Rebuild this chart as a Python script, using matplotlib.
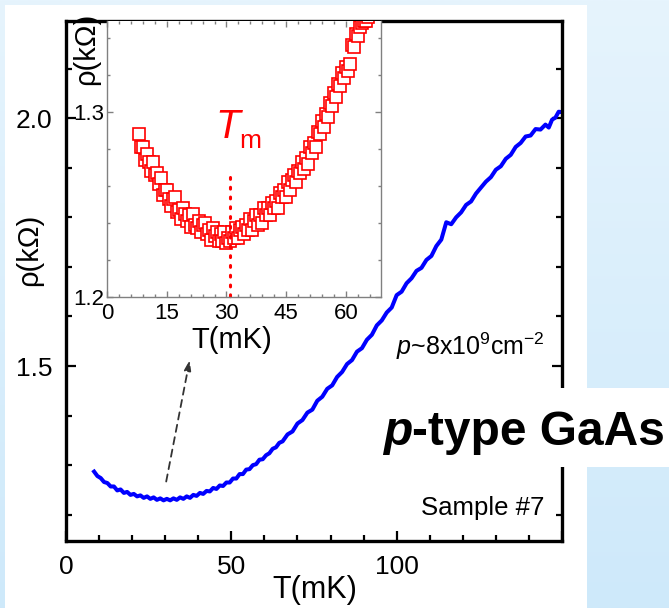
"""
plot.py

Resistivity vs temperature for p-type GaAs, with an inset that zooms
in on the low-temperature minimum.
"""

import numpy as np
import matplotlib
matplotlib.use("Agg")
import matplotlib.pyplot as plt
from matplotlib.patches import Rectangle
from matplotlib.ticker import MultipleLocator, FixedLocator, FixedFormatter

plt.rcParams["font.family"] = ["Liberation Sans", "DejaVu Sans"]
plt.rcParams["mathtext.fontset"] = "custom"
plt.rcParams["mathtext.rm"] = "Liberation Sans"
plt.rcParams["mathtext.it"] = "Liberation Sans:italic"

#####################################
# Data
#####################################

# main curve, T in mK, rho in kOhm
main_T = [8.5, 9.5, 10.5, 11.5, 12.5, 13.5, 14.5, 15.5, 16.5, 17.5, 18.5, 19.5,
          20.5, 21.5, 22.5, 23.5, 24.5, 25.5, 26.5, 27.5, 28.5, 29.5, 30.5, 31.5,
          32.5, 33.5, 34.5, 35.5, 36.5, 37.5, 38.5, 39.5, 40.5, 41.5, 42.5, 43.5,
          44.5, 45.5, 46.5, 47.5, 48.5, 49.5, 50.5, 51.5, 52.5, 53.5, 54.5, 55.5,
          56.5, 57.5, 58.5, 59.5, 60.5, 61.5, 62.5, 63.5, 64.5, 65.5, 67.0, 68.5,
          70.0, 71.5, 73.0, 74.5, 76.0, 77.5, 79.0, 80.5, 82.0, 83.5, 85.0, 86.5,
          88.0, 89.5, 91.0, 92.5, 94.0, 95.5, 97.0, 98.5, 100.0, 101.5, 103.0,
          104.5, 106.0, 107.5, 109.0, 110.5, 112.0, 113.5, 115.0, 116.5, 118.0,
          119.5, 121.0, 122.5, 124.0, 125.5, 127.0, 128.5, 130.0, 131.5, 133.0,
          134.5, 136.0, 137.5, 139.0, 140.5, 142.0, 143.5, 145.0, 146.0, 147.0,
          148.0, 149.0, 150.0]
main_rho = [1.287, 1.278, 1.274, 1.266, 1.264, 1.257, 1.257, 1.249, 1.251, 1.244,
            1.246, 1.240, 1.242, 1.237, 1.239, 1.234, 1.237, 1.232, 1.235, 1.230,
            1.233, 1.229, 1.232, 1.229, 1.233, 1.230, 1.235, 1.232, 1.237, 1.234,
            1.240, 1.238, 1.244, 1.242, 1.248, 1.247, 1.254, 1.252, 1.259, 1.258,
            1.265, 1.265, 1.273, 1.273, 1.282, 1.282, 1.291, 1.292, 1.300, 1.302,
            1.311, 1.312, 1.320, 1.324, 1.333, 1.336, 1.345, 1.348, 1.362, 1.368,
            1.384, 1.391, 1.406, 1.412, 1.430, 1.438, 1.454, 1.461, 1.478, 1.488,
            1.504, 1.512, 1.529, 1.536, 1.553, 1.563, 1.582, 1.592, 1.608, 1.618,
            1.643, 1.650, 1.667, 1.677, 1.692, 1.698, 1.714, 1.722, 1.742, 1.755,
            1.790, 1.786, 1.800, 1.810, 1.825, 1.832, 1.848, 1.860, 1.872, 1.881,
            1.896, 1.903, 1.918, 1.926, 1.942, 1.950, 1.963, 1.965, 1.978, 1.977,
            1.987, 1.981, 1.997, 2.001, 2.013, 2.012]

# inset scatter, T in mK, rho in kOhm
inset_T = [8.0, 8.5, 9.0, 9.5, 10.0, 10.5, 11.0, 11.5, 12.0, 12.5, 13.0, 13.5,
           14.0, 14.5, 15.0, 15.5, 16.0, 16.5, 17.0, 17.5, 18.0, 18.5, 19.0, 19.5,
           20.0, 20.5, 21.0, 21.5, 22.0, 22.5, 23.0, 23.5, 24.0, 24.5, 25.0, 25.5,
           26.0, 26.5, 27.0, 27.5, 28.0, 28.5, 29.0, 29.5, 30.0, 30.5, 31.0, 31.5,
           32.0, 32.5, 33.0, 33.5, 34.0, 34.5, 35.0, 35.5, 36.0, 36.5, 37.0, 37.5,
           38.0, 38.5, 39.0, 39.5, 40.0, 40.5, 41.0, 41.5, 42.0, 42.5, 43.0, 43.5,
           44.0, 44.5, 45.0, 45.5, 46.0, 46.5, 47.0, 47.5, 48.0, 48.5, 49.0, 49.5,
           50.0, 50.5, 51.0, 51.5, 52.0, 52.5, 53.0, 53.5, 54.0, 54.5, 55.0, 55.5,
           56.0, 56.5, 57.0, 57.5, 58.0, 58.5, 59.0, 59.5, 60.0, 60.5, 61.0, 61.5,
           62.0, 62.5, 63.0, 63.5, 64.0, 64.5, 65.0, 65.5]
inset_rho = [1.288, 1.281, 1.281, 1.274, 1.277, 1.273, 1.268, 1.273, 1.266, 1.267,
             1.261, 1.264, 1.255, 1.258, 1.258, 1.253, 1.249, 1.253, 1.254, 1.246,
             1.247, 1.242, 1.248, 1.245, 1.241, 1.244, 1.238, 1.245, 1.239, 1.237,
             1.241, 1.235, 1.239, 1.240, 1.234, 1.236, 1.231, 1.237, 1.233, 1.235,
             1.230, 1.234, 1.230, 1.235, 1.229, 1.232, 1.230, 1.235, 1.232, 1.237,
             1.232, 1.236, 1.238, 1.234, 1.239, 1.236, 1.242, 1.236, 1.241, 1.244,
             1.239, 1.244, 1.240, 1.248, 1.244, 1.248, 1.244, 1.251, 1.248, 1.252,
             1.248, 1.256, 1.254, 1.258, 1.254, 1.262, 1.258, 1.263, 1.266, 1.262,
             1.268, 1.267, 1.273, 1.269, 1.275, 1.272, 1.281, 1.278, 1.283, 1.281,
             1.289, 1.288, 1.295, 1.292, 1.299, 1.297, 1.305, 1.303, 1.310, 1.308,
             1.315, 1.314, 1.321, 1.318, 1.324, 1.322, 1.326, 1.336, 1.335, 1.342,
             1.341, 1.346, 1.348, 1.349, 1.349, 1.351]

T_min = 30.9  # position of the dotted marker in the inset

#####################################
# Figure and background
#####################################

W, H = 669, 608
fig = plt.figure(figsize=(W / 100, H / 100), dpi=100)

bg = fig.add_axes([0, 0, 1, 1], zorder=-3)
grad = np.linspace(0, 1, 256)[:, None, None]
top = np.array([230, 244, 253]) / 255
bottom = np.array([206, 233, 250]) / 255
bg.imshow(top + (bottom - top) * grad, aspect="auto", extent=[0, 1, 0, 1])
bg.set_axis_off()

# white paper behind the plot
fig.add_artist(Rectangle((5 / W, 0), 582 / W, (H - 5) / H, transform=fig.transFigure,
                         facecolor="white", edgecolor="none", zorder=-2))

#####################################
# Main plot
#####################################

ax = fig.add_axes([66 / W, (H - 541) / H, 496 / W, 520 / H], zorder=0)
ax.set_facecolor("white")
ax.plot(main_T, main_rho, color="#0000ff", lw=2.9)

ax.set_xlim(0, 150)
ax.set_ylim(1.147, 2.196)
ax.xaxis.set_major_locator(FixedLocator([0, 50, 100, 150]))
ax.xaxis.set_major_formatter(FixedFormatter(["0", "50", "100", ""]))
ax.xaxis.set_minor_locator(MultipleLocator(10))
ax.yaxis.set_major_locator(FixedLocator([1.5, 2.0]))
ax.yaxis.set_major_formatter(FixedFormatter(["1.5", "2.0"]))
ax.yaxis.set_minor_locator(MultipleLocator(0.1))

for s in ax.spines.values():
    s.set_linewidth(2.4)
ax.tick_params(which="both", direction="in", width=1.6, top=False, right=True,
               labelsize=19)
ax.tick_params(which="major", length=7)
ax.tick_params(which="minor", length=4)
ax.tick_params(axis="y", pad=10)
ax.tick_params(axis="x", pad=10)

ax.set_xlabel("T(mK)", fontsize=22, va="top")
ax.xaxis.set_label_coords(0.502, -0.066)
ax.set_ylabel("ρ(kΩ)", fontsize=21)
ax.yaxis.set_label_coords(-0.046, 0.56)

ax.annotate("", xy=(37.4, 1.512), xytext=(30.3, 1.267),
            arrowprops=dict(arrowstyle="-|>,head_length=0.6,head_width=0.2",
                            linestyle=(0, (4, 3)), color="#333333", lw=1.3,
                            shrinkA=0, shrinkB=0))

ax.text(144.7, 1.522, r"$p$~8x10$^{9}$cm$^{-2}$", fontsize=18,
        ha="right", va="baseline")
ax.text(144.7, 1.1996, "Sample #7", fontsize=18.5, ha="right", va="baseline")

#####################################
# Inset
#####################################

axi = fig.add_axes([107 / W, (H - 297) / H, 274 / W, 276 / H], zorder=1)
axi.set_facecolor("white")
axi.plot(inset_T, inset_rho, "s", ms=8, mfc="white", mec="#ff0000", mew=1.2)

axi.set_xlim(0, 68.8)
axi.set_ylim(1.2, 1.349)
axi.xaxis.set_major_locator(FixedLocator([0, 15, 30, 45, 60]))
axi.xaxis.set_minor_locator(MultipleLocator(3))
axi.yaxis.set_major_locator(FixedLocator([1.2, 1.3]))
axi.yaxis.set_major_formatter(FixedFormatter(["1.2", "1.3"]))
axi.yaxis.set_minor_locator(MultipleLocator(0.02))

for s in axi.spines.values():
    s.set_linewidth(1.0)
    s.set_color("#808080")
axi.spines["top"].set_visible(False)
axi.tick_params(which="both", direction="in", color="#808080", width=1.0,
                top=True, right=True, labelsize=16)
axi.tick_params(which="major", length=4)
axi.tick_params(which="minor", length=2.5)
axi.tick_params(axis="y", pad=2)
axi.tick_params(axis="x", pad=4)

axi.set_xlabel("T(mK)", fontsize=21, va="top")
axi.xaxis.set_label_coords(0.456, -0.105)
axi.set_ylabel("ρ(kΩ)", fontsize=21)
axi.yaxis.set_label_coords(-0.026, 0.9)

axi.plot([T_min, T_min], [1.265, 1.1984], color="#ff0000", lw=2.2,
         linestyle=(0, (0.6, 2.6)), dash_capstyle="round", clip_on=False)
axi.text(27.1, 1.286, "T", color="#ff0000", fontsize=29, style="italic",
         va="baseline")
axi.text(33.2, 1.2805, "m", color="#ff0000", fontsize=19, va="baseline")

#####################################
# Label box on the right
#####################################

fig.add_artist(Rectangle((370 / W, (H - 467) / H), (W - 370) / W, 79 / H,
                         transform=fig.transFigure, facecolor="white",
                         edgecolor="none", zorder=10))
t1 = fig.text(383 / W, (H - 445) / H, "p", fontsize=34.5, fontweight="bold",
              style="italic", va="baseline", zorder=11)
lab = plt.annotate("-type GaAs", xy=(1, 0), xycoords=t1, fontsize=34.5,
                   fontweight="bold", va="bottom", ha="left", zorder=11,
                   annotation_clip=False)
lab.remove()
fig.add_artist(lab)

fig.savefig("out.png", dpi=100)
